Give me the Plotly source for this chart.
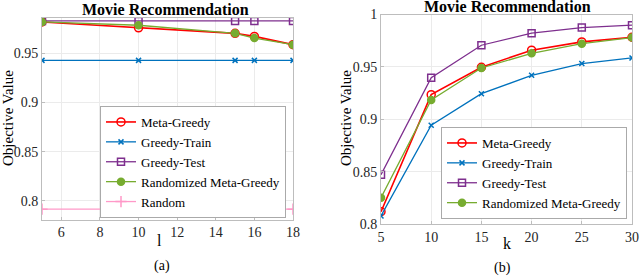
import plotly.graph_objects as go

# ---- data ----
l_vals = [5, 10, 15, 16, 18]
a_meta_greedy = [0.982, 0.976, 0.9704, 0.9673, 0.9589]
a_greedy_train = [0.9429, 0.9429, 0.9429, 0.9429, 0.9429]
a_greedy_test = [0.983, 0.983, 0.983, 0.983, 0.983]
a_rand_meta = [0.982, 0.9786, 0.9704, 0.9656, 0.9589]
a_random = [0.7915, 0.7915, 0.7915, 0.7915, 0.7915]

k_vals = [5, 10, 15, 20, 25, 30]
b_meta_greedy = [0.812, 0.9236, 0.9497, 0.966, 0.9739, 0.9783]
b_greedy_train = [0.808, 0.8944, 0.9245, 0.942, 0.9532, 0.9586]
b_greedy_test = [0.8473, 0.9398, 0.9707, 0.9822, 0.9875, 0.9898]
b_rand_meta = [0.8254, 0.9185, 0.949, 0.963, 0.9722, 0.978]

a_xticks = [6, 8, 10, 12, 14, 16, 18]
b_xticks = [5, 10, 15, 20, 25, 30]
a_yticks = [0.8, 0.85, 0.9, 0.95]
a_ytext = ["0.8", "0.85", "0.9", "0.95"]
b_yticks = [0.8, 0.85, 0.9, 0.95, 1.0]
b_ytext = ["0.8", "0.85", "0.9", "0.95", "1"]

RED = "#FF0000"
BLUE = "#0072BD"
PURPLE = "#7E2F8E"
GREEN = "#77AC30"
PINK = "#FF99C8"
FONT = "Times New Roman, Liberation Serif, DejaVu Serif, serif"

fig = go.Figure()

def add(x, y, name, color, symbol, size, xa, ya, legend, lw=1.3):
    fig.add_trace(go.Scatter(
        x=x, y=y, name=name, mode="lines+markers",
        line=dict(color=color, width=lw),
        marker=dict(symbol=symbol, size=size, color=color,
                    line=dict(color=color, width=1.5)),
        xaxis=xa, yaxis=ya, legend=legend))

add(l_vals, a_meta_greedy, "Meta-Greedy", RED, "circle-open", 8, "x", "y", "legend", 1.6)
add(l_vals, a_greedy_train, "Greedy-Train", BLUE, "x-thin", 5, "x", "y", "legend")
add(l_vals, a_greedy_test, "Greedy-Test", PURPLE, "square-open", 7, "x", "y", "legend")
add(l_vals, a_rand_meta, "Randomized Meta-Greedy", GREEN, "circle", 7, "x", "y", "legend")
add(l_vals, a_random, "Random", PINK, "cross-thin", 8, "x", "y", "legend")

add(k_vals, b_meta_greedy, "Meta-Greedy", RED, "circle-open", 8, "x2", "y2", "legend2", 1.6)
add(k_vals, b_greedy_train, "Greedy-Train", BLUE, "x-thin", 5, "x2", "y2", "legend2")
add(k_vals, b_greedy_test, "Greedy-Test", PURPLE, "square-open", 7, "x2", "y2", "legend2")
add(k_vals, b_rand_meta, "Randomized Meta-Greedy", GREEN, "circle", 7, "x2", "y2", "legend2")

W, H = 640, 278
def px(x):
    return x / W
def py(y):
    return 1 - y / H

axis_common = dict(showline=True, linecolor="#BDBDBD", linewidth=1, mirror=True,
                   showgrid=True, gridcolor="#EBEBEB", gridwidth=1,
                   ticks="inside", ticklen=3, tickcolor="#BDBDBD",
                   tickfont=dict(family=FONT, size=14, color="#262626"),
                   zeroline=False, automargin=False)

fig.update_layout(
    width=W, height=H, margin=dict(l=0, r=0, t=0, b=0, pad=0, autoexpand=False),
    paper_bgcolor="white", plot_bgcolor="white",
    font=dict(family=FONT, color="#262626"),
    xaxis=dict(domain=[px(42), px(293)], range=[5, 18], tickvals=a_xticks, anchor="y", **axis_common),
    yaxis=dict(domain=[py(219.5), py(18)], range=[0.781, 0.986], tickvals=a_yticks, ticktext=a_ytext, anchor="x", **axis_common),
    xaxis2=dict(domain=[px(381), px(632)], range=[5, 30], tickvals=b_xticks, anchor="y2", **axis_common),
    yaxis2=dict(domain=[py(224.3), py(14.5)], range=[0.8, 1.0], tickvals=b_yticks, ticktext=b_ytext, anchor="x2", **axis_common),
    legend=dict(x=px(286), y=py(162), xanchor="right", yanchor="middle",
                bgcolor="white", bordercolor="#AAAAAA", borderwidth=1,
                font=dict(family=FONT, size=13, color="black"),
                itemwidth=30, tracegroupgap=0),
    legend2=dict(x=px(627), y=py(219), xanchor="right", yanchor="bottom",
                 bgcolor="white", bordercolor="#AAAAAA", borderwidth=1,
                 font=dict(family=FONT, size=13, color="black"),
                 itemwidth=30, tracegroupgap=0),
    showlegend=True,
)

ann = []
def text(x, y, s, size, bold=False, angle=0):
    ann.append(dict(x=px(x), y=py(y), xref="paper", yref="paper", text=("<b>%s</b>" % s) if bold else s,
                    showarrow=False, font=dict(family=FONT, size=size, color="black"),
                    xanchor="center", yanchor="middle", textangle=angle))

text(165, 9, "Movie Recommendation", 16, bold=True)
text(507, 7, "Movie Recommendation", 16, bold=True)
text(8, 118, "Objective Value", 15, angle=-90)
text(346, 118, "Objective Value", 15, angle=-90)
text(159, 240, "l", 16)
text(507, 243, "k", 16)
text(162, 266, "(a)", 14)
text(502, 268, "(b)", 14)
fig.update_layout(annotations=ann)

fig.write_html("out.html", config={"displayModeBar": False},
               post_script="document.body.style.margin='0';document.body.style.padding='0';")
